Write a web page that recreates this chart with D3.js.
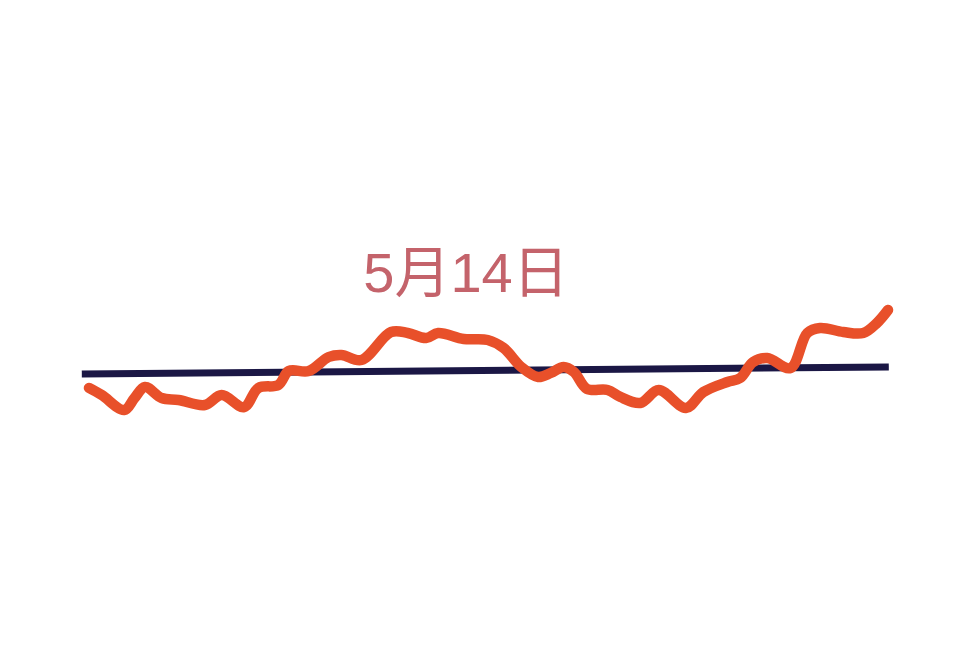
<!DOCTYPE html>
<html>
<head>
<meta charset="utf-8">
<script src="https://cdn.jsdelivr.net/npm/d3@7/dist/d3.min.js"></script>
<style>
  html, body { margin: 0; padding: 0; background: #ffffff; }
  svg { display: block; }
</style>
</head>
<body>
<script>
// ---- data ----
const title = "5月14日";
const times = [0,1.6,4.4,5.7,7.0,9.1,11.2,14.5,16.6,19.4,21.2,23.7,25.0,27.5,30.0,31.6,34.1,37.8,39.9,42.2,43.7,46.9,49.9,51.9,54.1,56.2,57.8,59.4,60.7,62.3,64.9,66.5,69.0,71.3,74.7,76.9,79.9,81.5,83.1,84.9,87.8,89.9,91.5,94.4,96.9,98.6,100];
const values = [26.7,20.8,8.3,18.3,27.5,18.3,16.7,12.5,20.8,10.8,26.7,29.2,40.8,40.8,52.5,54.2,50,73.3,72.5,68.3,72.5,67.5,66.7,60,44.2,35.8,39.2,44.2,40,26.0,25,19.2,14.2,25,10,23.3,31.7,35,48.3,51.7,43.3,72.5,76.7,73.3,72.5,80.8,91.7];
const refTimes = [-0.9, 100.1];
const refValues = [38.3, 44.2];

// ---- layout ----
const W = 960, H = 651;
const svg = d3.select("body").append("svg").attr("width", W).attr("height", H);
svg.append("rect").attr("width", W).attr("height", H).attr("fill", "#ffffff");

const x = d3.scaleLinear().domain([0, 100]).range([89, 888]);
const y = d3.scaleLinear().domain([0, 100]).range([420, 300]);

// reference line
svg.append("path")
  .datum(refTimes.map((t, i) => [t, refValues[i]]))
  .attr("d", d3.line().x(d => x(d[0])).y(d => y(d[1])))
  .attr("fill", "none")
  .attr("stroke", "#1b1745")
  .attr("stroke-width", 7)
  .attr("stroke-linecap", "butt");

// series line
svg.append("path")
  .datum(times.map((t, i) => [t, values[i]]))
  .attr("d", d3.line().x(d => x(d[0])).y(d => y(d[1])).curve(d3.curveCatmullRom.alpha(0.5)))
  .attr("fill", "none")
  .attr("stroke", "#e8502a")
  .attr("stroke-width", 10.5)
  .attr("stroke-linecap", "round")
  .attr("stroke-linejoin", "round");

// title
svg.append("text")
  .attr("x", 466)
  .attr("y", 292)
  .attr("text-anchor", "middle")
  .attr("font-family", "'Liberation Sans', 'Noto Sans CJK SC', sans-serif")
  .attr("font-size", 56)
  .attr("fill", "#c4636b")
  .text(title);
</script>
</body>
</html>
